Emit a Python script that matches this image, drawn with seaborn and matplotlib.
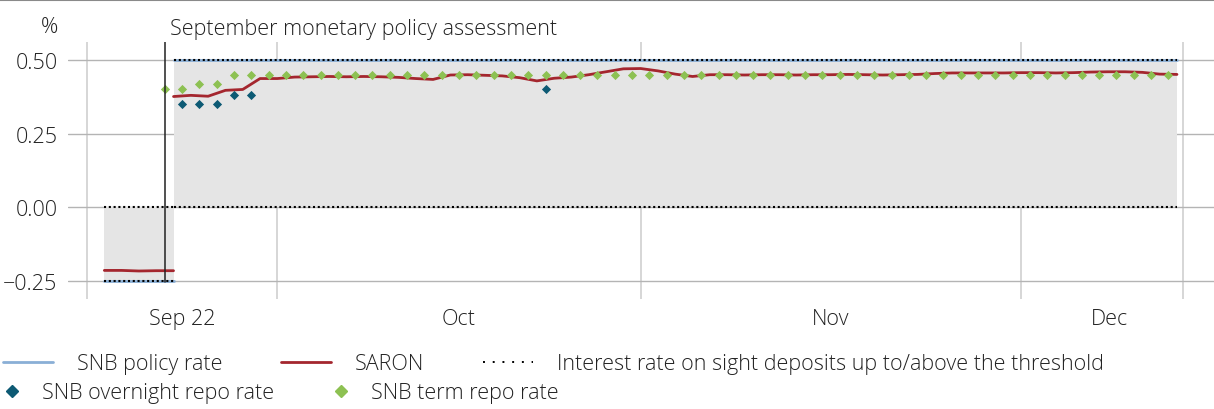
import numpy as np
import pandas as pd
import matplotlib
matplotlib.use("Agg")
import matplotlib.pyplot as plt
from matplotlib.lines import Line2D
import seaborn as sns

# business-day calendar shown on the x axis
days = pd.bdate_range("2022-09-16", "2022-12-14")
day_pos = pd.Series(np.arange(len(days), dtype=float), index=days)

# rates before / after the September assessment (lines are drawn at day starts)
pre_dates = pd.bdate_range("2022-09-19", "2022-09-23")
post_dates = pd.bdate_range("2022-09-23", "2022-12-14")

saron_pre = [-0.214, -0.214, -0.216, -0.215, -0.215]
saron_post = [0.376, 0.380, 0.377, 0.397, 0.400, 0.437, 0.437, 0.442, 0.443, 0.444,
              0.443, 0.444, 0.443, 0.441, 0.437, 0.434, 0.449, 0.450, 0.448, 0.446,
              0.440, 0.429, 0.438, 0.442, 0.450, 0.460, 0.470, 0.471, 0.463, 0.452,
              0.444, 0.450, 0.450, 0.449, 0.450, 0.450, 0.449, 0.450, 0.450, 0.451,
              0.450, 0.449, 0.450, 0.451, 0.454, 0.456, 0.456, 0.456, 0.456, 0.457,
              0.457, 0.456, 0.457, 0.459, 0.460, 0.460, 0.458, 0.452, 0.451]

policy_pre = -0.25
policy_post = 0.50
sight_up_pre = 0.00       # up to the threshold
sight_above_pre = -0.25   # above the threshold
sight_up_post = 0.50
sight_above_post = 0.00

# repo operations (markers sit in the middle of each day)
term_dates = pd.bdate_range("2022-09-22", "2022-12-13")
term_rate = [0.40, 0.40, 0.42, 0.42, 0.45, 0.45, 0.45, 0.45, 0.45, 0.45,
             0.45, 0.45, 0.45, 0.45, 0.45, 0.45, 0.45, 0.45, 0.45, 0.45,
             0.45, 0.45, 0.45, 0.45, 0.45, 0.45, 0.45, 0.45, 0.45, 0.45,
             0.45, 0.45, 0.45, 0.45, 0.45, 0.45, 0.45, 0.45, 0.45, 0.45,
             0.45, 0.45, 0.45, 0.45, 0.45, 0.45, 0.45, 0.45, 0.45, 0.45,
             0.45, 0.45, 0.45, 0.45, 0.45, 0.45, 0.45, 0.45, 0.45]
overnight_dates = pd.to_datetime(["2022-09-23", "2022-09-26", "2022-09-27",
                                  "2022-09-28", "2022-09-29", "2022-10-24"])
overnight_rate = [0.35, 0.35, 0.35, 0.38, 0.38, 0.40]

event_date = pd.Timestamp("2022-09-22")
event_label = "September monetary policy assessment"
month_labels = ["Sep 22", "Oct", "Nov", "Dec"]
y_ticks = [-0.25, 0.0, 0.25, 0.5]

c_policy = "#8aafd6"
c_saron = "#a4262e"
c_overnight = "#0d5a74"
c_term = "#8dc152"
c_shade = "#e5e5e5"
c_text = "#222222"
fs = 15.5

sns.set_theme(style="white")
plt.rcParams["font.family"] = ["Open Sans", "DejaVu Sans"]
plt.rcParams["font.weight"] = "light"
plt.rcParams["font.size"] = fs
plt.rcParams["text.color"] = c_text

x_pre = day_pos[pre_dates].values
x_post = day_pos[post_dates].values

lines = pd.concat([
    pd.DataFrame({"x": x_pre, "rate": saron_pre, "seg": 0}),
    pd.DataFrame({"x": x_post, "rate": saron_post, "seg": 1}),
])
policy = pd.concat([
    pd.DataFrame({"x": x_pre, "rate": policy_pre, "seg": 0}),
    pd.DataFrame({"x": x_post, "rate": policy_post, "seg": 1}),
])
sight = pd.concat([
    pd.DataFrame({"x": x_pre, "rate": sight_up_pre, "seg": 0}),
    pd.DataFrame({"x": x_pre, "rate": sight_above_pre, "seg": 1}),
    pd.DataFrame({"x": x_post, "rate": sight_up_post, "seg": 2}),
    pd.DataFrame({"x": x_post, "rate": sight_above_post, "seg": 3}),
])
term = pd.DataFrame({"x": day_pos[term_dates].values + 0.5, "rate": term_rate})
overnight = pd.DataFrame({"x": day_pos[overnight_dates].values + 0.5, "rate": overnight_rate})

fig = plt.figure(figsize=(12.14, 4.10), dpi=100)
ax = fig.add_axes([68 / 1214, 1 - 300 / 410, 1 - 68 / 1214, 257 / 410])

# corridor between the two sight deposit rates
ax.fill_between(x_pre, sight_above_pre, sight_up_pre, color=c_shade, lw=0, zorder=1)
ax.fill_between(x_post, sight_above_post, sight_up_post, color=c_shade, lw=0, zorder=1)

sns.lineplot(data=policy, x="x", y="rate", units="seg", estimator=None,
             color=c_policy, lw=2.0, ax=ax, zorder=3)
sns.lineplot(data=sight, x="x", y="rate", units="seg", estimator=None,
             color="black", lw=1.5, ls=(0, (1, 1.3)), ax=ax, zorder=4)
sns.lineplot(data=lines, x="x", y="rate", units="seg", estimator=None,
             color=c_saron, lw=2.0, ax=ax, zorder=5)
sns.scatterplot(data=term, x="x", y="rate", marker="D", s=22, color=c_term,
                linewidth=0, ax=ax, zorder=6)
sns.scatterplot(data=overnight, x="x", y="rate", marker="D", s=22, color=c_overnight,
                linewidth=0, ax=ax, zorder=6)

# axes ranges
ax.set_xlim(-1.1, 65.14)
ax.set_ylim(-0.311, 0.561)

# month boundaries as vertical grid, labels centred in each month
month_starts = [day_pos[days[days.month == m][0]] for m in [10, 11, 12]]
bounds = [0.0] + month_starts + [64.2]
for b in [0.0] + month_starts + [63.35]:
    ax.axvline(b, color="#d6d6d6", lw=1.4, zorder=0)
mids = [(bounds[k] + bounds[k + 1]) / 2 for k in range(4)]
ax.set_xticks(mids)
ax.set_xticklabels(month_labels)

ax.set_yticks(y_ticks)
ax.set_yticklabels(["\u22120.25", "0.00", "0.25", "0.50"])
ax.grid(axis="y", color="#b4b4b4", lw=1.0, zorder=0)
ax.grid(axis="x", visible=False)
ax.tick_params(axis="both", length=0, labelsize=fs, colors=c_text)
ax.tick_params(axis="y", pad=7.5)
ax.tick_params(axis="x", pad=6.5)
ax.set_xlabel("")
ax.set_ylabel("")
for s in ax.spines.values():
    s.set_visible(False)
ax.set_facecolor("none")

# assessment marker
ev = day_pos[event_date] + 0.5
ax.axvline(ev, ymin=(-0.255 + 0.311) / 0.872, ymax=1, color="#222222", lw=1.1, zorder=7)

fig.text(58 / 1214, 1 - 33 / 410, "%", ha="right", va="baseline", fontsize=fs)
fig.text(170 / 1214, 1 - 35 / 410, event_label, ha="left", va="baseline", fontsize=fs)

# top rule
fig.add_artist(Line2D([0, 1], [0.998, 0.998], transform=fig.transFigure,
                      color="#8a8a8a", lw=1.5))

# legend: two rows
h1 = [Line2D([], [], color=c_policy, lw=2.0),
      Line2D([], [], color=c_saron, lw=2.0),
      Line2D([], [], color="black", lw=1.4, ls=(0, (1, 4)))]
l1 = ["SNB policy rate", "SARON",
      "Interest rate on sight deposits up to/above the threshold"]
fig.legend(h1, l1, loc="center left", bbox_to_anchor=(3 / 1214, 1 - 365 / 410),
           ncol=3, frameon=False, borderpad=0, borderaxespad=0,
           handlelength=2.33, handletextpad=1.12, columnspacing=2.7, fontsize=fs)
h2 = [Line2D([], [], color=c_overnight, marker="D", ms=6.5, ls="none"),
      Line2D([], [], color=c_term, marker="D", ms=6.5, ls="none")]
l2 = ["SNB overnight repo rate", "SNB term repo rate"]
fig.legend(h2, l2, loc="center left", bbox_to_anchor=(1.2 / 1214, 1 - 394 / 410),
           ncol=2, frameon=False, borderpad=0, borderaxespad=0,
           handlelength=1.0, handletextpad=0.9, columnspacing=2.59, fontsize=fs)

fig.savefig("out.png", dpi=100)
